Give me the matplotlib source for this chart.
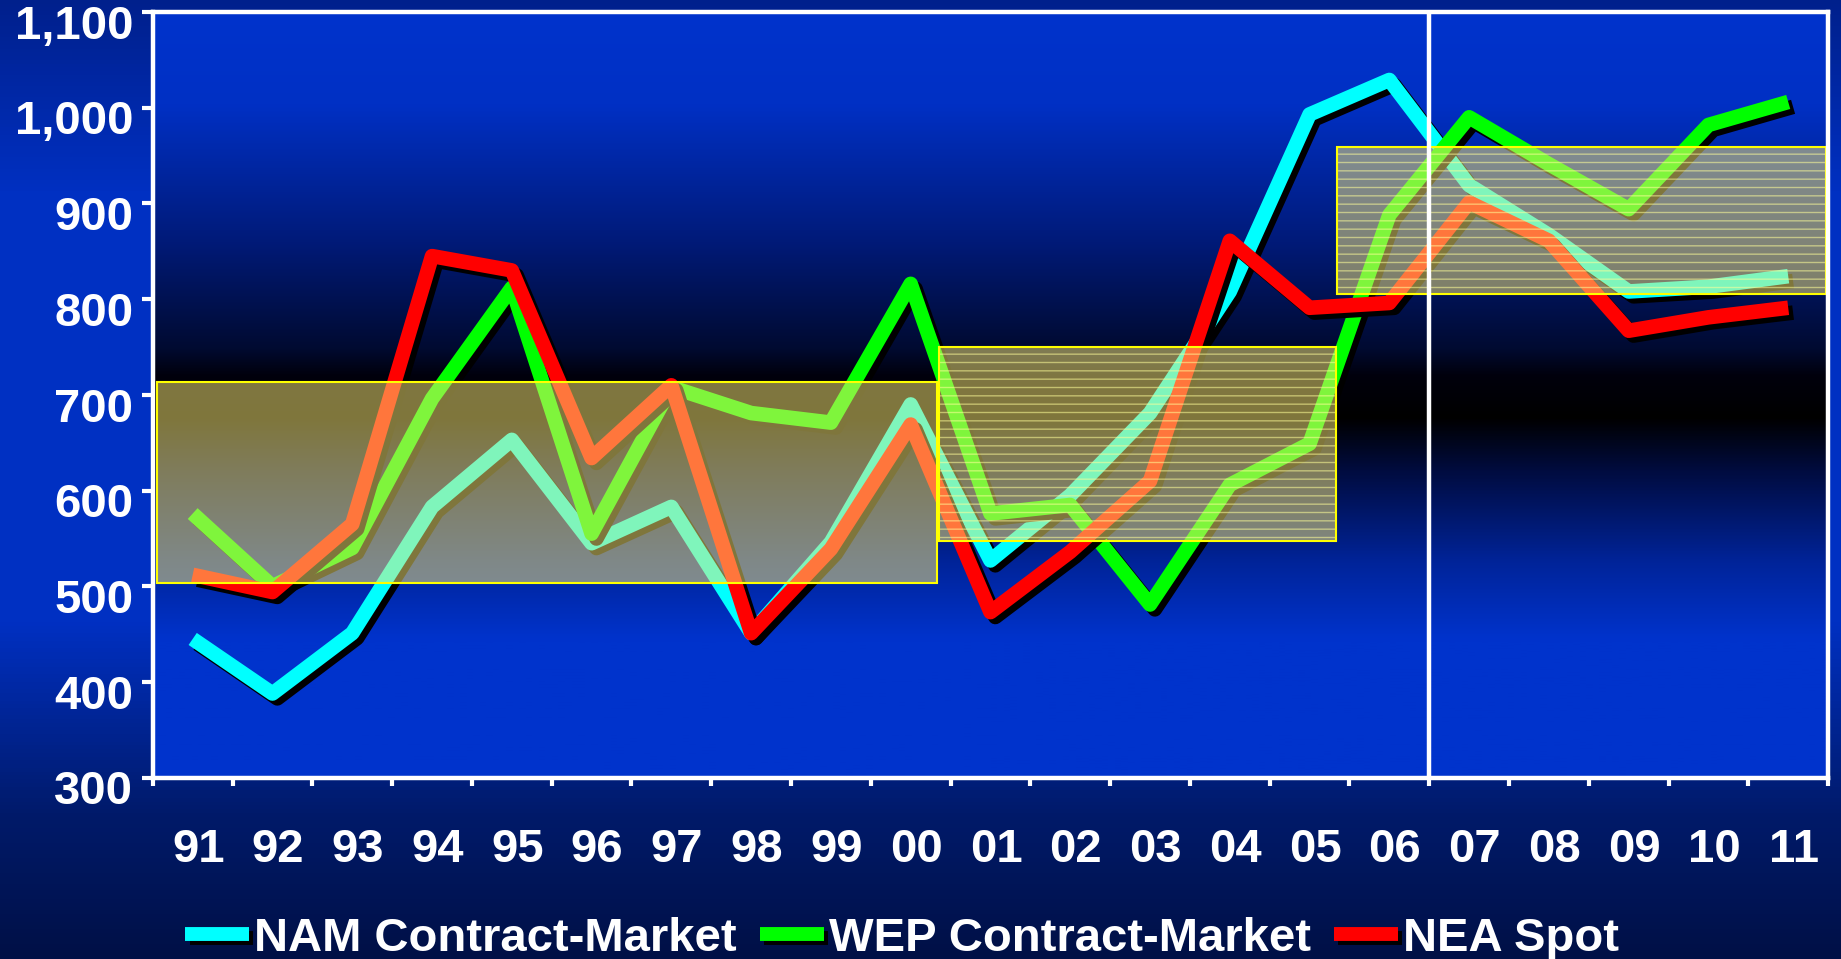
import matplotlib.pyplot as plt
import matplotlib.patheffects as pe
from matplotlib.colors import LinearSegmentedColormap
from matplotlib.lines import Line2D
from matplotlib.patches import Rectangle
from matplotlib.ticker import FuncFormatter
from matplotlib.transforms import ScaledTranslation
import numpy as np

years = ["91", "92", "93", "94", "95", "96", "97", "98", "99", "00", "01",
         "02", "03", "04", "05", "06", "07", "08", "09", "10", "11"]
nam = [445, 388, 451, 583, 653, 545, 583, 451, 546, 690, 527,
       595, 681, 808, 993, 1029, 919, 867, 808, 813, 824]
wep = [576, 500, 540, 696, 812, 555, 708, 681, 671, 816, 576,
       585, 481, 606, 649, 888, 990, 941, 894, 982, 1006]
nea = [512, 494, 565, 845, 830, 634, 710, 451, 539, 669, 473,
       536, 610, 861, 791, 796, 901, 861, 767, 781, 791]
series_names = ["NAM Contract-Market", "WEP Contract-Market", "NEA Spot"]

# price bands, x in year index units
band_start = [-0.45, 9.35, 14.35]
band_end = [9.33, 14.33, 20.47]
band_low = [503, 547, 805]
band_high = [713, 750, 959]
band_hatch = [None, "--", "--"]

plt.rcParams['font.family'] = ['Liberation Sans', 'DejaVu Sans']
plt.rcParams['font.weight'] = 'bold'
plt.rcParams['hatch.linewidth'] = 1.0

fig = plt.figure(figsize=(18.41, 9.59), dpi=100)

# backdrop for the whole figure
bg = fig.add_axes([0, 0, 1, 1], zorder=-1)
fig_cmap = LinearSegmentedColormap.from_list("fig_bg", [
    (0.0, "#00208c"), (0.2, "#0030c2"), (0.65, "#0030c2"),
    (0.85, "#001a6a"), (1.0, "#001046")])
bg.imshow(np.linspace(0, 1, 256).reshape(-1, 1), cmap=fig_cmap, aspect="auto",
          extent=(0, 1, 0, 1))
bg.set_axis_off()

ax = fig.add_axes([0.083, 0.189, 0.910, 0.7985])
ax.set_facecolor("none")
plot_cmap = LinearSegmentedColormap.from_list("plot_bg", [
    (0.0, "#0033cc"), (0.12, "#0030c4"), (0.3, "#001a78"), (0.44, "#000a30"),
    (0.475, "#00000c"), (0.53, "#000000"), (0.6, "#000c40"),
    (0.72, "#00249a"), (0.82, "#0033cc"), (1.0, "#0033cc")])
ax.imshow(np.linspace(0, 1, 256).reshape(-1, 1), cmap=plot_cmap, aspect="auto",
          extent=(-0.5, 20.5, 300, 1100), zorder=0)

x = np.arange(len(years))
shadow = [pe.SimpleLineShadow(offset=(3.5, -3.5), shadow_color="black", alpha=1.0), pe.Normal()]
colors = ["#00ffff", "#00ff00", "#ff0000"]
for vals, col in zip([nam, wep, nea], colors):
    ax.plot(x, vals, color=col, lw=10.5, solid_capstyle="butt", solid_joinstyle="round",
            path_effects=shadow, zorder=3)

for x0, x1, lo, hi, h in zip(band_start, band_end, band_low, band_high, band_hatch):
    ax.add_patch(Rectangle((x0, lo), x1 - x0, hi - lo, facecolor=(1, 0.93, 0.47, 0.5),
                           edgecolor="none", zorder=4))
    if h:
        ax.add_patch(Rectangle((x0, lo), x1 - x0, hi - lo, fill=False, hatch=h,
                               edgecolor=(1, 1, 0.6, 0.55), lw=0, zorder=4))
    ax.add_patch(Rectangle((x0, lo), x1 - x0, hi - lo, fill=False,
                           edgecolor="#ffff00", lw=1.5, zorder=4.5))

ax.axvline(15.5, color="white", lw=3.2, zorder=5)

ax.set_xlim(-0.5, 20.5)
ax.set_ylim(300, 1100)
for s in ax.spines.values():
    s.set_color("white")
    s.set_linewidth(3.2)
    s.set_zorder(6)

ax.set_xticks(np.arange(-0.5, 21, 1))
ax.set_xticks(x, minor=True)
ax.set_xticklabels(years, minor=True)
ax.tick_params(axis="x", which="major", direction="out", length=6, width=3,
               color="white", labelbottom=False)
ax.tick_params(axis="x", which="minor", length=0, pad=36, labelsize=34, labelcolor="white")
ax.set_yticks(np.arange(300, 1101, 100))
ax.yaxis.set_major_formatter(FuncFormatter(lambda v, p: f"{int(v):,}"))
ax.tick_params(axis="y", direction="out", length=8, width=3, color="white", pad=6,
               labelsize=34, labelcolor="white")
shift_x = ScaledTranslation(4 / 72, 0, fig.dpi_scale_trans)
for lab in ax.get_xticklabels(minor=True):
    lab.set_transform(lab.get_transform() + shift_x)
shift_y = ScaledTranslation(0, -7 / 72, fig.dpi_scale_trans)
for lab in ax.get_yticklabels():
    lab.set_transform(lab.get_transform() + shift_y)

handles = [Line2D([], [], color=c, lw=10, solid_capstyle="butt",
                  path_effects=[pe.SimpleLineShadow(offset=(3, -3), shadow_color="black", alpha=1.0),
                                pe.Normal()])
           for c in colors]
fig.legend(handles, series_names, loc="center", bbox_to_anchor=(0.49, 0.021), ncol=3,
           frameon=False, fontsize=34, handlelength=1.35, handletextpad=0.1,
           columnspacing=0.5, labelcolor="white")

fig.savefig("out.png", dpi=100)
